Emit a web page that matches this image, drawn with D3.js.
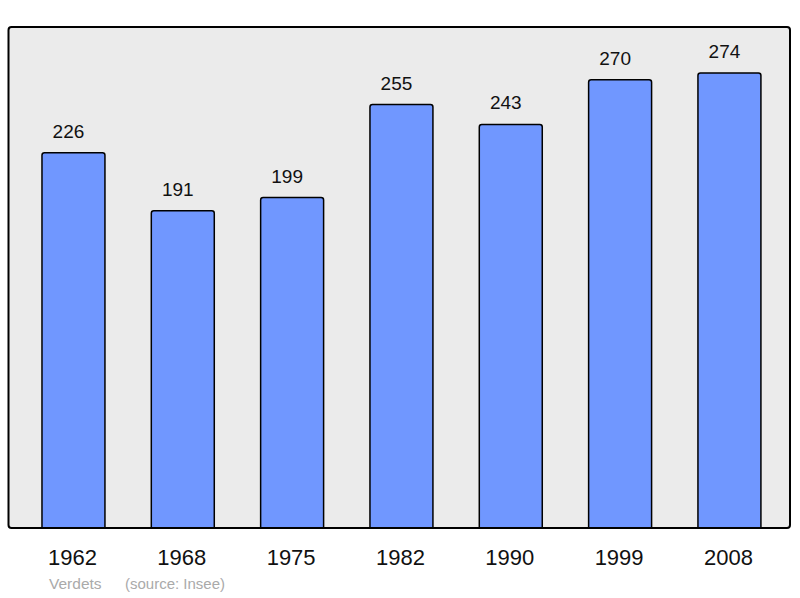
<!DOCTYPE html>
<html>
<head>
<meta charset="utf-8">
<script src="https://cdn.jsdelivr.net/npm/d3@7"></script>
<style>
  html, body { margin: 0; padding: 0; background: #fff; }
  svg { display: block; }
  text { font-family: "Liberation Sans", Arial, sans-serif; }
</style>
</head>
<body>
<script>
const years = ["1962", "1968", "1975", "1982", "1990", "1999", "2008"];
const population = [226, 191, 199, 255, 243, 270, 274];
const commune = "Verdets";
const source = "(source: Insee)";

const W = 800, H = 598;
const svg = d3.select("body").append("svg").attr("width", W).attr("height", H);

const frame = { x0: 8.5, y0: 27, x1: 790, y1: 528 };

const x = d3.scaleBand()
  .domain(years)
  .range([18.8, 784.1])
  .paddingInner(0.424)
  .paddingOuter(0.212);

const y = d3.scaleLinear()
  .domain([0, 274])
  .range([528, 73]);

// background
svg.append("rect")
  .attr("x", frame.x0).attr("y", frame.y0)
  .attr("width", frame.x1 - frame.x0).attr("height", frame.y1 - frame.y0)
  .attr("rx", 3).attr("fill", "#ebebeb");

const data = years.map((yr, i) => ({ yr, v: population[i] }));

// bars
svg.append("g").selectAll("rect").data(data).join("rect")
  .attr("x", d => x(d.yr))
  .attr("y", d => y(d.v))
  .attr("width", x.bandwidth())
  .attr("height", d => y(0) - y(d.v) + 6)
  .attr("rx", 2.5)
  .attr("fill", "#7097ff")
  .attr("stroke", "#000")
  .attr("stroke-width", 1.5);

// cover overhang below frame
svg.append("rect")
  .attr("x", 0).attr("y", frame.y1 + 1)
  .attr("width", W).attr("height", 10)
  .attr("fill", "#fff");

// frame
svg.append("rect")
  .attr("x", frame.x0).attr("y", frame.y0)
  .attr("width", frame.x1 - frame.x0).attr("height", frame.y1 - frame.y0)
  .attr("rx", 3).attr("fill", "none")
  .attr("stroke", "#000").attr("stroke-width", 2);

// value labels
svg.append("g").selectAll("text").data(data).join("text")
  .attr("x", d => x(d.yr) + x.bandwidth() / 2 - 5)
  .attr("y", d => y(d.v) - 15)
  .attr("text-anchor", "middle")
  .attr("font-size", 19)
  .attr("fill", "#111")
  .text(d => d.v);

// x axis labels
const xAxis = d3.axisBottom(x).tickSize(0).tickPadding(0);
const gx = svg.append("g").attr("transform", `translate(0, ${frame.y1})`).call(xAxis);
gx.select(".domain").remove();
gx.selectAll("text")
  .attr("x", -1)
  .attr("y", 37).attr("dy", null)
  .attr("font-size", 22)
  .attr("font-family", "Liberation Sans, Arial, sans-serif")
  .attr("fill", "#111");

// footer
svg.append("text").attr("x", 49).attr("y", 589)
  .attr("font-size", 15.5).attr("fill", "#aaaaaa").text(commune);
svg.append("text").attr("x", 125).attr("y", 589)
  .attr("font-size", 15).attr("fill", "#aaaaaa").text(source);
</script>
</body>
</html>
